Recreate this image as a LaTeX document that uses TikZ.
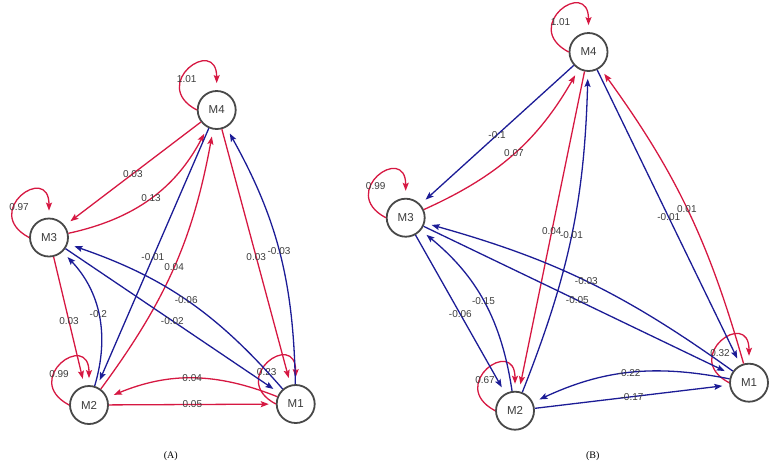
\documentclass[tikz,border=0pt]{standalone}
\usepackage{fontspec}
\setmainfont{Liberation Sans}
\newfontfamily\capfont{Liberation Serif}
\usetikzlibrary{arrows.meta}
\definecolor{ered}{RGB}{214,24,66}
\definecolor{eblue}{RGB}{28,28,150}
\definecolor{nodegray}{RGB}{72,72,72}
\definecolor{lblgray}{RGB}{60,60,60}
\tikzset{
  mnode/.style={circle, draw=nodegray, line width=1.8pt, fill=white, minimum size=38pt, inner sep=0pt,
    font=\fontsize{11.5}{13}\selectfont, text=lblgray},
  redE/.style={draw=ered, line width=1.3pt, -{Stealth[length=8pt,width=6pt,inset=1.5pt]}, shorten >=7pt},
  blueE/.style={draw=eblue, line width=1.3pt, -{Stealth[length=8pt,width=6pt,inset=1.5pt]}, shorten >=7pt},
  lbl/.style={font=\fontsize{10}{11}\selectfont, text=lblgray, inner sep=0pt},
  selfloop/.style={out=152, in=90, looseness=5},
  caplbl/.style={font=\capfont\fontsize{10}{12}\selectfont, text=black, inner sep=0pt}
}
\begin{document}
\begin{tikzpicture}[x=1pt,y=1pt]
\useasboundingbox (0,0) rectangle (783,-475);

% ---------------- Panel A ----------------
\node[mnode] (aM4) at (216.7,-110) {M4};
\node[mnode] (aM3) at (49,-237.5) {M3};
\node[mnode] (aM2) at (89,-405) {M2};
\node[mnode] (aM1) at (295.7,-404) {M1};

% self loops
\draw[redE] (aM4.180) to[selfloop] (aM4.90);
\node[lbl] at ([shift={(-30,31)}]aM4.center) {1.01};
\draw[redE] (aM3.180) to[selfloop] (aM3.90);
\node[lbl] at ([shift={(-30,30)}]aM3.center) {0.97};
\draw[redE] (aM2.180) to[selfloop] (aM2.90);
\node[lbl] at ([shift={(-30,31)}]aM2.center) {0.99};
\draw[redE] (aM1.180) to[selfloop] (aM1.90);
\node[lbl] at ([shift={(-29,32)}]aM1.center) {0.23};

% M4 - M3
\draw[redE] (aM4) -- node[lbl]{0.03} (aM3);
\draw[redE] (aM3) to[bend right=25] node[lbl]{0.13} (aM4);
% M4 - M2
\draw[blueE] (aM4) -- node[lbl]{-0.01} (aM2);
\draw[redE] (aM2) to[bend right=13] node[lbl]{0.04} (aM4);
% M4 - M1
\draw[redE] (aM4) -- node[lbl]{0.03} (aM1);
\draw[blueE] (aM1) to[bend right=14] node[lbl]{-0.03} (aM4);
% M3 - M2
\draw[redE] (aM3) -- node[lbl]{0.03} (aM2);
\draw[blueE] (aM2) to[bend right=30] node[lbl]{-0.2} (aM3);
% M3 - M1
\draw[blueE] (aM3) -- node[lbl]{-0.02} (aM1);
\draw[blueE] (aM1) to[bend right=15] node[lbl]{-0.06} (aM3);
% M2 - M1
\draw[redE] (aM2) -- node[lbl]{0.05} (aM1);
\draw[redE] (aM1) to[bend right=22] node[lbl]{0.04} (aM2);

\node[caplbl] (capA) at (170.7,-455.7) {(A)};

% ---------------- Panel B ----------------
\node[mnode] (bM4) at (588.5,-52) {M4};
\node[mnode] (bM3) at (405.7,-217.7) {M3};
\node[mnode] (bM2) at (515,-410.7) {M2};
\node[mnode] (bM1) at (749,-382.7) {M1};

% self loops
\draw[redE] (bM4.180) to[selfloop] (bM4.90);
\node[lbl] at ([shift={(-28,30)}]bM4.center) {1.01};
\draw[redE] (bM3.180) to[selfloop] (bM3.90);
\node[lbl] at ([shift={(-30,32)}]bM3.center) {0.99};
\draw[redE] (bM2.180) to[selfloop] (bM2.90);
\node[lbl] at ([shift={(-30,31)}]bM2.center) {0.67};
\draw[redE] (bM1.180) to[selfloop] (bM1.90);
\node[lbl] at ([shift={(-29,30)}]bM1.center) {0.32};

% M4 - M3
\draw[blueE] (bM4) -- node[lbl]{-0.1} (bM3);
\draw[redE] (bM3) to[bend right=18] node[lbl]{0.07} (bM4);
% M4 - M2
\draw[redE] (bM4) -- node[lbl]{0.04} (bM2);
\draw[blueE] (bM2) to[bend right=10] node[lbl]{-0.01} (bM4);
% M4 - M1
\draw[blueE] (bM4) -- node[lbl]{-0.01} (bM1);
\draw[redE] (bM1) to[bend right=10] node[lbl]{0.01} (bM4);
% M3 - M1
\draw[blueE] (bM3) -- node[lbl]{-0.05} (bM1);
\draw[blueE] (bM1) to[bend right=10] node[lbl]{-0.03} (bM3);
% M3 - M2
\draw[blueE] (bM3) -- node[lbl]{-0.06} (bM2);
\draw[blueE] (bM2) to[bend right=21] node[lbl]{-0.15} (bM3);
% M2 - M1
\draw[blueE] (bM2) -- node[lbl]{-0.17} (bM1);
\draw[blueE] (bM1) to[bend right=18] node[lbl]{-0.22} (bM2);

\node[caplbl] (capB) at (592.7,-455.7) {(B)};
\end{tikzpicture}
\end{document}
